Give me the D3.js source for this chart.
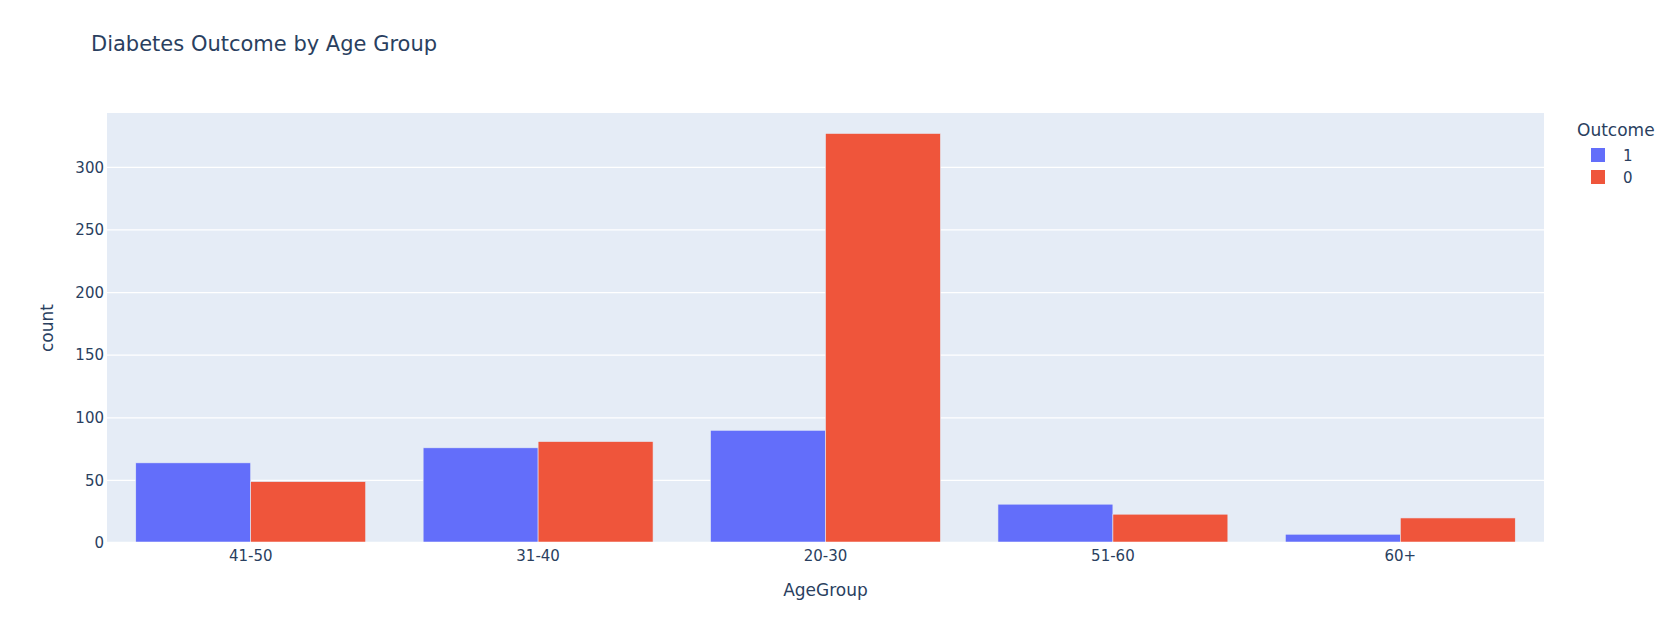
<!DOCTYPE html>
<html>
<head>
<meta charset="utf-8">
<script src="https://cdn.jsdelivr.net/npm/d3@7"></script>
<style>
  body { margin: 0; background: #fff; }
  svg { font-family: "DejaVu Sans", Verdana, sans-serif; }
</style>
</head>
<body>
<svg width="1675" height="633"></svg>
<script>
// chart data
const ageGroups = ["41-50", "31-40", "20-30", "51-60", "60+"];
const outcomes = ["1", "0"];
const outcome1 = [64, 76, 90, 31, 7];
const outcome0 = [49, 81, 327, 23, 20];
const yTicks = [0, 50, 100, 150, 200, 250, 300];

const colors = {"1": "#636efa", "0": "#EF553B"};
const textColor = "#2a3f5f";

const w = 1675, h = 633;
var margin = {top: 113, right: 131, bottom: 90, left: 107},
    width = w - margin.left - margin.right,
    height = h - margin.top - margin.bottom;

var svg = d3.select("svg");

// title
svg.append("text")
    .attr("x", 91)
    .attr("y", 51)
    .style("font-size", "21px")
    .style("fill", textColor)
    .text("Diabetes Outcome by Age Group");

var g = svg.append("g")
    .attr("transform", "translate(" + margin.left + "," + margin.top + ")");

// scales
var x = d3.scaleBand().domain(ageGroups).range([0, width])
    .paddingInner(0.2).paddingOuter(0.1);
var xInner = d3.scaleBand().domain(outcomes).range([0, x.bandwidth()]).padding(0);
var y = d3.scaleLinear().domain([0, 327 * 1.05]).range([height, 0]);

// background
g.append("rect")
    .attr("width", width)
    .attr("height", height)
    .attr("fill", "#E5ECF6");

// gridlines
g.selectAll(".grid")
    .data(yTicks.slice(1))
  .enter().append("line")
    .attr("x1", 0).attr("x2", width)
    .attr("y1", d => y(d)).attr("y2", d => y(d))
    .attr("stroke", "#fff")
    .attr("stroke-width", 1.25);

// bars
var rows = ageGroups.map((a, i) => ({group: a, values: [
    {key: "1", value: outcome1[i]},
    {key: "0", value: outcome0[i]}
]}));

var groups = g.selectAll(".group")
    .data(rows)
  .enter().append("g")
    .attr("transform", d => "translate(" + x(d.group) + ",0)");

groups.selectAll("rect")
    .data(d => d.values)
  .enter().append("rect")
    .attr("x", d => xInner(d.key))
    .attr("y", d => y(d.value))
    .attr("width", xInner.bandwidth())
    .attr("height", d => y(0) - y(d.value))
    .attr("fill", d => colors[d.key])
    .attr("stroke", "#E5ECF6")
    .attr("stroke-width", 0.6);

// zero line
g.append("line")
    .attr("x1", 0).attr("x2", width)
    .attr("y1", y(0)).attr("y2", y(0))
    .attr("stroke", "#fff")
    .attr("stroke-width", 2.5);

// Y axis
var yAxis = g.append("g")
    .call(d3.axisLeft(y).tickValues(yTicks).tickSize(0).tickPadding(3));
yAxis.select(".domain").remove();
yAxis.selectAll("text")
    .style("font-size", "15px")
    .style("font-family", "'DejaVu Sans', Verdana, sans-serif")
    .style("fill", textColor);

// X axis
var xAxis = g.append("g")
    .attr("transform", "translate(0," + height + ")")
    .call(d3.axisBottom(x).tickSize(0).tickPadding(7));
xAxis.select(".domain").remove();
xAxis.selectAll("text")
    .style("font-size", "15px")
    .style("font-family", "'DejaVu Sans', Verdana, sans-serif")
    .style("fill", textColor);

// axis titles
svg.append("text")
    .attr("x", margin.left + width / 2)
    .attr("y", 596)
    .style("text-anchor", "middle")
    .style("font-size", "17px")
    .style("fill", textColor)
    .text("AgeGroup");

svg.append("text")
    .attr("transform", "translate(53," + (margin.top + height / 2) + ") rotate(-90)")
    .style("text-anchor", "middle")
    .style("font-size", "17px")
    .style("fill", textColor)
    .text("count");

// legend
var legend = svg.append("g");
legend.append("text")
    .attr("x", 1577)
    .attr("y", 136)
    .style("font-size", "17px")
    .style("fill", textColor)
    .text("Outcome");

var items = legend.selectAll(".item")
    .data(outcomes)
  .enter().append("g")
    .attr("transform", (d, i) => "translate(0," + (155 + i * 22) + ")");
items.append("rect")
    .attr("x", 1591).attr("y", -7)
    .attr("width", 14).attr("height", 14)
    .attr("fill", d => colors[d]);
items.append("text")
    .attr("x", 1623).attr("y", 5.5)
    .style("font-size", "15px")
    .style("fill", textColor)
    .text(d => d);
</script>
</body>
</html>
